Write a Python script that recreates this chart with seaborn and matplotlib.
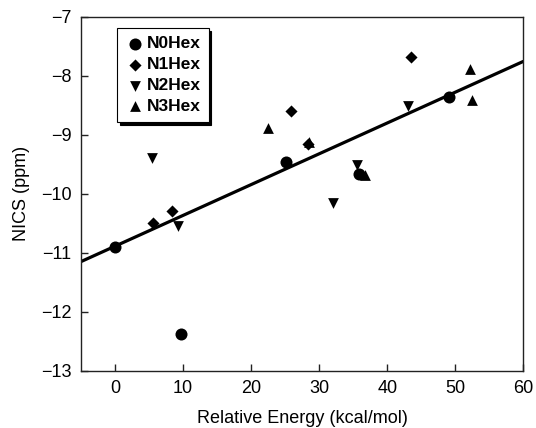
import pandas as pd
import matplotlib
matplotlib.use("Agg")
import matplotlib.pyplot as plt
import seaborn as sns

# Values
n0_energy = [0.0, 9.7, 25.2, 35.8, 49.1]
n0_nics = [-10.90, -12.38, -9.47, -9.67, -8.36]

n1_energy = [5.6, 8.4, 25.8, 28.3, 43.5]
n1_nics = [-10.49, -10.30, -8.59, -9.16, -7.69]

n2_energy = [5.4, 9.2, 32.0, 35.5, 43.0]
n2_nics = [-9.40, -10.55, -10.15, -9.51, -8.51]

n3_energy = [22.5, 28.5, 36.8, 52.1, 52.5]
n3_nics = [-8.89, -9.12, -9.68, -7.88, -8.41]

series_names = ["N0Hex", "N1Hex", "N2Hex", "N3Hex"]

# Fitted line as drawn in the figure
fit_slope = 0.0522
fit_intercept = -10.89

x_ticks = [0, 10, 20, 30, 40, 50, 60]
y_ticks = [-7, -8, -9, -10, -11, -12, -13]

# Build a long table for seaborn
frames = []
for name, xs, ys in zip(series_names,
                        [n0_energy, n1_energy, n2_energy, n3_energy],
                        [n0_nics, n1_nics, n2_nics, n3_nics]):
    frames.append(pd.DataFrame({"energy": xs, "nics": ys, "series": name}))
df = pd.concat(frames, ignore_index=True)

sns.set_style("ticks")
plt.rcParams["font.family"] = ["Liberation Sans", "DejaVu Sans"]
plt.rcParams["text.color"] = "black"
plt.rcParams["axes.labelcolor"] = "black"
plt.rcParams["xtick.color"] = "black"
plt.rcParams["ytick.color"] = "black"

fig = plt.figure(figsize=(5.36, 4.28), dpi=100)
ax = fig.add_axes([0.1511, 0.1339, 0.8252, 0.8271])

markers = {"N0Hex": "o", "N1Hex": "D", "N2Hex": "v", "N3Hex": "^"}
sizes = {"N0Hex": 75, "N1Hex": 38, "N2Hex": 60, "N3Hex": 60}

for name in series_names:
    sub = df[df["series"] == name]
    sns.scatterplot(data=sub, x="energy", y="nics", marker=markers[name],
                    s=sizes[name], color="black", edgecolor="black",
                    linewidth=0, label=name, ax=ax, zorder=3)

ax.axline((0, fit_intercept), slope=fit_slope, color="black", lw=2.3, zorder=2)

ax.set_xlim(-5, 60)
ax.set_ylim(-13, -7)
ax.set_xticks(x_ticks)
ax.set_yticks(y_ticks)
ax.tick_params(direction="in", length=5, width=1, labelsize=13, pad=7,
               color="#222222")
for sp in ax.spines.values():
    sp.set_visible(True)
    sp.set_color("#222222")
    sp.set_linewidth(1)

ax.set_xlabel("Relative Energy (kcal/mol)", fontsize=13, labelpad=9)
ax.set_ylabel("NICS (ppm)", fontsize=13, labelpad=8)

leg = ax.legend(loc="upper left", bbox_to_anchor=(0.082, 0.967),
                frameon=True, fancybox=False, shadow={"color": "black", "alpha": 1},
                prop={"weight": "bold", "size": 12.5}, labelspacing=0.33,
                handletextpad=0.15, handlelength=1.1, borderpad=0.45,
                borderaxespad=0)
leg.get_frame().set_edgecolor("black")
leg.get_frame().set_linewidth(0.8)
leg.get_frame().set_alpha(1)

fig.savefig("out.png", dpi=100)
